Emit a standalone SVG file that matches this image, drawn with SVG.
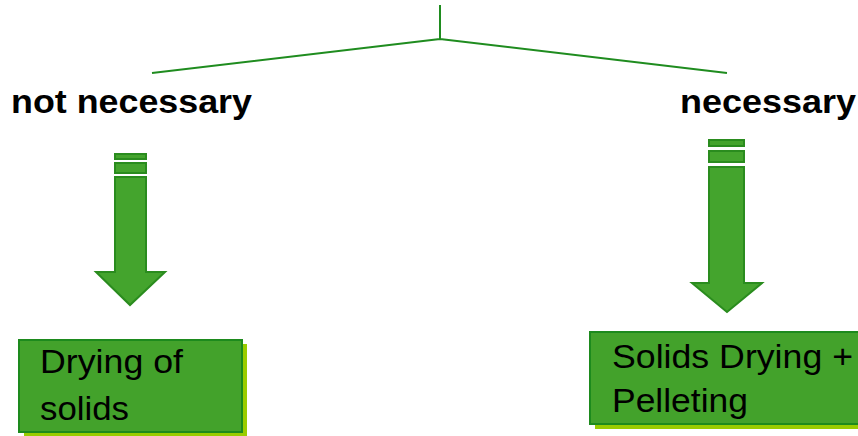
<svg xmlns="http://www.w3.org/2000/svg" width="858" height="436" viewBox="0 0 858 436">
<style>
.conn{stroke:#1f8c1f;stroke-width:2;fill:none}
.arrow{fill:#44a42d;stroke:#2a8c1e;stroke-width:2}
.box{fill:#43a22b;stroke:#1d8a1d;stroke-width:2}
.shadow{fill:#99cc00}
.lbl{font-family:"Liberation Sans",Arial,sans-serif;font-weight:bold;font-size:34px;fill:#000}
.txt{font-family:"Liberation Sans",Arial,sans-serif;font-size:33px;fill:#000}
</style>
<rect width="858" height="436" fill="#fff"/>
<g id="connectors">
<path class="conn" d="M440 5V39M440 39L152 73M440 39L727 73"/>
</g>
<g id="label-not-necessary"><text class="lbl" x="11" y="113" textLength="241" lengthAdjust="spacingAndGlyphs">not necessary</text></g>
<g id="label-necessary"><text class="lbl" x="680" y="113" textLength="176" lengthAdjust="spacingAndGlyphs">necessary</text></g>
<g id="arrow-left">
<rect class="arrow" x="115" y="154" width="31" height="5"/>
<rect class="arrow" x="115" y="163" width="31" height="10"/>
<path class="arrow" d="M115 177H146V272H165L130 305L96 272H115Z"/>
</g>
<g id="arrow-right">
<rect class="arrow" x="709" y="140" width="35" height="6"/>
<rect class="arrow" x="709" y="151" width="35" height="11"/>
<path class="arrow" d="M709 167H744V283H762L727 312L692 283H709Z"/>
</g>
<g id="node-drying">
<rect class="shadow" x="24" y="344" width="223" height="92"/>
<rect class="box" x="19" y="340" width="223" height="92"/>
<text class="txt" x="40" y="373" textLength="143" lengthAdjust="spacingAndGlyphs">Drying of</text>
<text class="txt" x="40" y="420" textLength="89" lengthAdjust="spacingAndGlyphs">solids</text>
</g>
<g id="node-pelleting">
<rect class="shadow" x="595" y="337" width="280" height="92"/>
<rect class="box" x="590" y="332" width="280" height="92"/>
<text class="txt" x="612" y="368" textLength="241" lengthAdjust="spacingAndGlyphs">Solids Drying +</text>
<text class="txt" x="612" y="412" textLength="136" lengthAdjust="spacingAndGlyphs">Pelleting</text>
</g>
</svg>
